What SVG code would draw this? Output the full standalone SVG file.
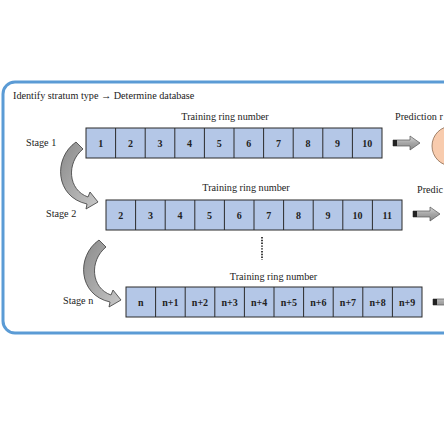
<svg xmlns="http://www.w3.org/2000/svg" width="444" height="444" viewBox="0 0 444 444">
<defs>
<linearGradient id="g" x1="0" y1="0" x2="0" y2="1"><stop offset="0" stop-color="#d9d9d9"/><stop offset="0.5" stop-color="#a6a6a6"/><stop offset="1" stop-color="#8c8c8c"/></linearGradient>
<linearGradient id="gc" x1="0" y1="0" x2="1" y2="1"><stop offset="0" stop-color="#8a8a8a"/><stop offset="1" stop-color="#c8c8c8"/></linearGradient>
<path id="bigArrow" d="M0,-3 H17 V-7 L27,0 L17,7 V3 H0 Z" fill="url(#g)" stroke="#555" stroke-width="0.7"/>
<path id="curve" d="M76,142 C53,158 55,197 87,204 L86,209 L98,202 L90,192 L88,197 C68,190 66,163 83,149 Z" fill="url(#gc)" stroke="#3a3a3a" stroke-width="0.8"/>
</defs>
<style>
text{font-family:"Liberation Serif","Times New Roman",serif;fill:#222}
.t{font-size:10.2px}
.n{font-size:10px;font-weight:bold;text-anchor:middle}
.box{fill:#b4c7e7;stroke:#2b2b2b;stroke-width:1}
.c{text-anchor:middle}
</style>
<rect x="0" y="0" width="444" height="444" fill="#ffffff"/>
<rect x="3" y="82" width="470" height="251" rx="12" ry="12" fill="#ffffff" stroke="#5b9bd5" stroke-width="3"/>
<text class="t" x="13" y="99">Identify stratum type → Determine database</text>

<g id="row1">
<text class="t c" x="225" y="120">Training ring number</text>
<text class="t" x="26" y="146">Stage 1</text>
<rect x="86" y="128" width="296" height="30" class="box"/>
<g stroke="#2b2b2b" stroke-width="1">
<line x1="115.6" y1="128" x2="115.6" y2="158"/><line x1="145.2" y1="128" x2="145.2" y2="158"/><line x1="174.8" y1="128" x2="174.8" y2="158"/><line x1="204.4" y1="128" x2="204.4" y2="158"/><line x1="234" y1="128" x2="234" y2="158"/><line x1="263.6" y1="128" x2="263.6" y2="158"/><line x1="293.2" y1="128" x2="293.2" y2="158"/><line x1="322.8" y1="128" x2="322.8" y2="158"/><line x1="352.4" y1="128" x2="352.4" y2="158"/>
</g>
<text class="n" x="100.8" y="146.5">1</text><text class="n" x="130.4" y="146.5">2</text><text class="n" x="160" y="146.5">3</text><text class="n" x="189.6" y="146.5">4</text><text class="n" x="219.2" y="146.5">5</text><text class="n" x="248.8" y="146.5">6</text><text class="n" x="278.4" y="146.5">7</text><text class="n" x="308" y="146.5">8</text><text class="n" x="337.6" y="146.5">9</text><text class="n" x="367.2" y="146.5">10</text>
</g>

<g id="out1">
<use href="#bigArrow" x="393" y="143"/>
<rect x="393" y="140" width="4" height="6" fill="#222"/>
<text class="t" x="395" y="120">Prediction r</text>
<circle cx="452" cy="146" r="20" fill="#f8cbad" stroke="#8a6a50" stroke-width="0.8"/>
</g>

<g id="row2">
<text class="t c" x="246" y="191">Training ring number</text>
<text class="t" x="46" y="217">Stage 2</text>
<rect x="106" y="200" width="296" height="30" class="box"/>
<g stroke="#2b2b2b" stroke-width="1">
<line x1="135.6" y1="200" x2="135.6" y2="230"/><line x1="165.2" y1="200" x2="165.2" y2="230"/><line x1="194.8" y1="200" x2="194.8" y2="230"/><line x1="224.4" y1="200" x2="224.4" y2="230"/><line x1="254" y1="200" x2="254" y2="230"/><line x1="283.6" y1="200" x2="283.6" y2="230"/><line x1="313.2" y1="200" x2="313.2" y2="230"/><line x1="342.8" y1="200" x2="342.8" y2="230"/><line x1="372.4" y1="200" x2="372.4" y2="230"/>
</g>
<text class="n" x="120.8" y="218.5">2</text><text class="n" x="150.4" y="218.5">3</text><text class="n" x="180" y="218.5">4</text><text class="n" x="209.6" y="218.5">5</text><text class="n" x="239.2" y="218.5">6</text><text class="n" x="268.8" y="218.5">7</text><text class="n" x="298.4" y="218.5">8</text><text class="n" x="328" y="218.5">9</text><text class="n" x="357.6" y="218.5">10</text><text class="n" x="387.2" y="218.5">11</text>
</g>

<g id="out2">
<use href="#bigArrow" x="413" y="214"/>
<rect x="413" y="211" width="4" height="6" fill="#222"/>
<text class="t" x="417" y="193">Predic</text>
</g>

<g id="dots">
<line x1="262" y1="237" x2="262" y2="260" stroke="#111" stroke-width="1.6" stroke-dasharray="1.4,1.4"/>
</g>

<g id="row3">
<text class="t c" x="273.5" y="280">Training ring number</text>
<text class="t" x="63" y="304">Stage n</text>
<rect x="126" y="287" width="296" height="30" class="box"/>
<g stroke="#2b2b2b" stroke-width="1">
<line x1="155.6" y1="287" x2="155.6" y2="317"/><line x1="185.2" y1="287" x2="185.2" y2="317"/><line x1="214.8" y1="287" x2="214.8" y2="317"/><line x1="244.4" y1="287" x2="244.4" y2="317"/><line x1="274" y1="287" x2="274" y2="317"/><line x1="303.6" y1="287" x2="303.6" y2="317"/><line x1="333.2" y1="287" x2="333.2" y2="317"/><line x1="362.8" y1="287" x2="362.8" y2="317"/><line x1="392.4" y1="287" x2="392.4" y2="317"/>
</g>
<text class="n" x="140.8" y="305.5">n</text><text class="n" x="170.4" y="305.5">n+1</text><text class="n" x="200" y="305.5">n+2</text><text class="n" x="229.6" y="305.5">n+3</text><text class="n" x="259.2" y="305.5">n+4</text><text class="n" x="288.8" y="305.5">n+5</text><text class="n" x="318.4" y="305.5">n+6</text><text class="n" x="348" y="305.5">n+7</text><text class="n" x="377.6" y="305.5">n+8</text><text class="n" x="407.2" y="305.5">n+9</text>
</g>

<g id="out3">
<use href="#bigArrow" x="433" y="302"/>
<rect x="433" y="299" width="4" height="6" fill="#222"/>
</g>

<g id="connectors">
<use href="#curve"/>
<use href="#curve" transform="translate(23,98)"/>
</g>
</svg>
